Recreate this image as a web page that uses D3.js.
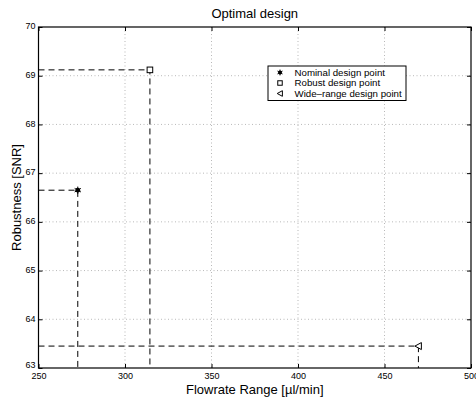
<!DOCTYPE html>
<html>
<head>
<meta charset="utf-8">
<script src="https://cdn.jsdelivr.net/npm/d3@7"></script>
<style>
  body { margin: 0; background: #fff; }
  svg { font-family: "Liberation Sans", Arial, sans-serif; }
</style>
</head>
<body>
<svg id="chart" width="476" height="400"></svg>
<script>
const pointNames = ["Nominal design point", "Robust design point", "Wide\u2013range design point"];
const flowrates = [272.7, 314.4, 469.6];
const robustness = [66.65, 69.12, 63.45];
const markerTypes = ["star", "square", "triangleLeft"];
const xTicks = [250, 300, 350, 400, 450, 500];
const yTicks = [63, 64, 65, 66, 67, 68, 69, 70];

const svg = d3.select("#chart");
const margin = { top: 27, right: 5, bottom: 32, left: 38.5 };
const width = +svg.attr("width") - margin.left - margin.right;
const height = +svg.attr("height") - margin.top - margin.bottom;

const x = d3.scaleLinear().domain([250, 500]).range([0, width]);
const y = d3.scaleLinear().domain([63, 70]).range([height, 0]);

const g = svg.append("g").attr("transform", `translate(${margin.left}, ${margin.top})`);

// grid
g.append("g")
  .selectAll("line")
  .data(xTicks.slice(1, -1))
  .enter()
  .append("line")
  .attr("x1", d => x(d)).attr("x2", d => x(d))
  .attr("y1", 0).attr("y2", height)
  .attr("stroke", "#999").attr("stroke-width", 0.7)
  .attr("stroke-dasharray", "1,2.5");
g.append("g")
  .selectAll("line")
  .data(yTicks.slice(1, -1))
  .enter()
  .append("line")
  .attr("y1", d => y(d)).attr("y2", d => y(d))
  .attr("x1", 0).attr("x2", width)
  .attr("stroke", "#999").attr("stroke-width", 0.7)
  .attr("stroke-dasharray", "1,2.5");

// axes (ticks inward, matlab style)
function styleAxis(s) {
  s.select(".domain").remove();
  s.selectAll(".tick line").attr("stroke", "#000");
  s.selectAll(".tick text").attr("fill", "#000").style("font-size", "9px")
    .style("font-family", "Liberation Sans, Arial, sans-serif");
}
const fmt = d3.format("d");
g.append("g")
  .attr("transform", `translate(0, ${height})`)
  .call(d3.axisBottom(x).tickValues(xTicks).tickSize(-4).tickPadding(5).tickFormat(fmt))
  .call(styleAxis);
g.append("g")
  .call(d3.axisTop(x).tickValues(xTicks).tickSize(-4).tickFormat(""))
  .call(styleAxis);
g.append("g")
  .call(d3.axisLeft(y).tickValues(yTicks).tickSize(-4).tickPadding(3).tickFormat(fmt))
  .call(styleAxis)
  .selectAll(".tick text").attr("dy", (d, i) => (i === 0 ? "-0.1em" : "0.2em"));
g.append("g")
  .attr("transform", `translate(${width}, 0)`)
  .call(d3.axisRight(y).tickValues(yTicks).tickSize(-4).tickFormat(""))
  .call(styleAxis);

g.append("rect")
  .attr("width", width).attr("height", height)
  .attr("fill", "none").attr("stroke", "#000").attr("stroke-width", 1.2);

// dashed guide lines
flowrates.forEach((fr, i) => {
  g.append("path")
    .attr("d", `M${x(250)},${y(robustness[i])}H${x(fr)}V${y(63)}`)
    .attr("fill", "none").attr("stroke", "#000")
    .attr("stroke-width", 1).attr("stroke-dasharray", "6,4");
});

// markers
function drawMarker(sel, type, cx, cy, sc = 1) {
  if (type === "star") {
    sel.append("circle").attr("cx", cx).attr("cy", cy).attr("r", 2.4 * sc).attr("fill", "#000");
    sel.append("path")
      .attr("d", d3.symbol().type(d3.symbolAsterisk).size(36 * sc * sc)())
      .attr("transform", `translate(${cx},${cy})`)
      .attr("stroke", "#000").attr("stroke-width", 1).attr("fill", "none");
  } else if (type === "square") {
    const h = 2.8 * sc;
    sel.append("rect").attr("x", cx - h).attr("y", cy - h)
      .attr("width", 2 * h).attr("height", 2 * h)
      .attr("fill", "#fff").attr("stroke", "#000").attr("stroke-width", 1);
  } else {
    const h = 3.5 * sc;
    sel.append("path")
      .attr("d", `M${cx - h},${cy}L${cx + h * 0.85},${cy - h}L${cx + h * 0.85},${cy + h}Z`)
      .attr("fill", "#fff").attr("stroke", "#000").attr("stroke-width", 1);
  }
}
flowrates.forEach((fr, i) => drawMarker(g, markerTypes[i], x(fr), y(robustness[i])));

// legend
const legend = svg.append("g").attr("transform", "translate(268, 66)");
legend.append("rect").attr("width", 138).attr("height", 34.5)
  .attr("fill", "#fff").attr("stroke", "#000").attr("stroke-width", 1);
pointNames.forEach((name, i) => {
  const row = legend.append("g");
  drawMarker(row, markerTypes[i], 12, 6.5 + i * 10.5, 0.8);
  row.append("text")
    .attr("x", 26.5).attr("y", 6.5 + i * 10.5).attr("dy", "0.35em")
    .style("font-size", "9.7px").text(name);
});

// titles
svg.append("text")
  .attr("x", margin.left + width / 2).attr("y", 18)
  .attr("text-anchor", "middle").style("font-size", "13px")
  .text("Optimal design");
svg.append("text")
  .attr("x", margin.left + width / 2).attr("y", 394)
  .attr("text-anchor", "middle").style("font-size", "13px")
  .text("Flowrate Range [\u00b5l/min]");
svg.append("text")
  .attr("transform", `translate(21, ${margin.top + height / 2}) rotate(-90)`)
  .attr("text-anchor", "middle").style("font-size", "13px")
  .text("Robustness [SNR]");
</script>
</body>
</html>
